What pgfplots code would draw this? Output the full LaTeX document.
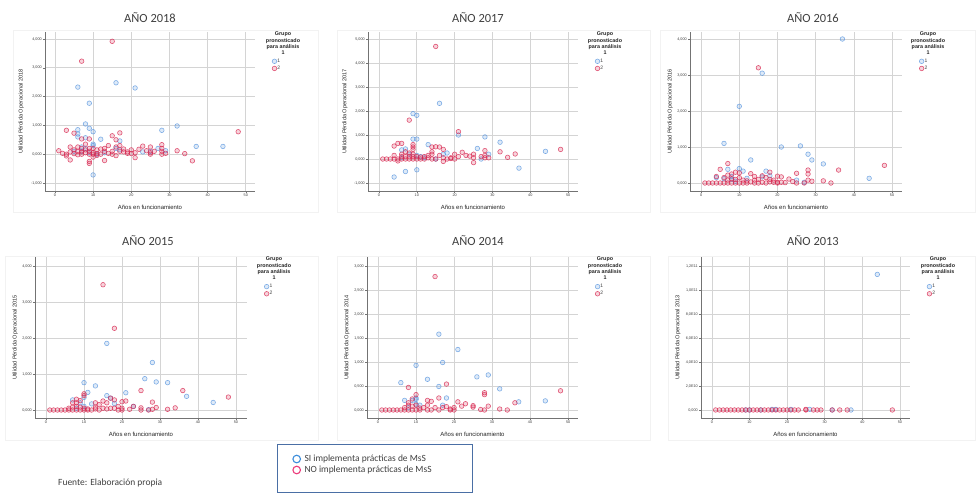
\documentclass[border=0pt]{standalone}
\usepackage{fontspec}
\setmainfont{Liberation Sans}
\newfontfamily\calfont{Carlito}
\usepackage{pgfplots}
\pgfplotsset{compat=1.18}
\definecolor{sblue}{HTML}{5B97E0}
\definecolor{sred}{HTML}{D8264F}
\definecolor{lblue}{HTML}{3C8DDB}
\definecolor{lpink}{HTML}{EC3C7C}
\definecolor{boxblue}{HTML}{4A6FA5}
\definecolor{txt}{HTML}{404040}
\pgfplotsset{
 spss/.style={
   scale only axis, anchor=north west,
   axis lines=left, axis line style={-, draw=black!55, line width=0.6bp},
   enlargelimits=false, clip mode=individual,
   xmajorgrids, ymajorgrids, major grid style={draw=black!17, line width=0.7bp},
   tick align=outside, major tick length=2bp, tick style={draw=black!55, line width=0.4bp},
   /pgf/number format/assume math mode=true,
   ticklabel style={font=\fontsize{3.8}{4}\selectfont, text=black!75, inner sep=1bp},
   xtick={0,10,20,30,40,50},
   xlabel={Años en funcionamiento},
   xlabel style={font=\fontsize{6}{7}\selectfont, text=black!85, at={(axis description cs:0.5,-0.1)}, anchor=center},
   ylabel style={font=\fontsize{5.6}{6}\selectfont, text=black!85, anchor=center},
   legend style={at={(1.08,0.835)}, anchor=north west, draw=none, fill=none, font=\fontsize{5}{5.5}\selectfont, text=black!75, inner sep=0pt, row sep=1.4bp, nodes={inner sep=0.4bp}},
   legend cell align=left,
 },
 g1/.style={only marks, mark=*, mark size=2.3bp, color=sblue, mark options={draw=sblue, fill=sblue, draw opacity=0.8, fill opacity=0.2, line width=0.55bp}},
 g2/.style={only marks, mark=*, mark size=2.3bp, color=sred, mark options={draw=sred, fill=sred, draw opacity=0.8, fill opacity=0.2, line width=0.55bp}},
}
\pgfplotsset{legend image code/.code={\draw[#1] plot coordinates {(0bp,0bp)};\path[draw=none,fill=none] (-2.5bp,-2.5bp) rectangle (2.5bp,2.5bp);}}
\begin{document}
\begin{tikzpicture}
\useasboundingbox (0,0) rectangle (976bp,-499bp);
\fill[white] (0,0) rectangle (976bp,-499bp);
% faint frames
\draw[black!5] (13bp,-30bp) rectangle (318bp,-212bp);
\draw[black!5] (337bp,-30bp) rectangle (650bp,-212bp);
\draw[black!5] (660bp,-30bp) rectangle (975bp,-212bp);
\draw[black!5] (5bp,-256bp) rectangle (318bp,-440bp);
\draw[black!5] (337bp,-256bp) rectangle (650bp,-440bp);
\draw[black!5] (668bp,-256bp) rectangle (975bp,-440bp);
% titles
\foreach \tx/\ty/\tt in {150/18/2018, 478/18/2017, 813/18/2016, 148/241/2015, 478/241/2014, 813/241/2013}
  \node[font=\calfont\fontsize{12.5}{14}\selectfont, text=txt] at (\tx bp,-\ty bp) {AÑO \tt};
% legend titles
\foreach \lx/\ly in {283/32, 605/32, 928/32, 274/257, 605/257, 938/257}
  \node[anchor=north, align=center, font=\bfseries\fontsize{5.4}{6.3}\selectfont, text=black!85, inner sep=0pt] at (\lx bp,-\ly bp) {Grupo\\pronosticado\\para análisis\\1};

% ---------- 2018
\begin{axis}[spss, at={(45bp,-32bp)}, width=210bp, height=159bp,
  xmin=-2.6, xmax=52.4, ymin=-1278, ymax=4243,
  ytick={-1000,0,1000,2000,3000,4000}, yticklabels={{-1,000},{0,000},{1,000},{2,000},{3,000},{4,000}},
  ylabel={Utilidad Pérdida Operacional 2018}, ylabel style={at={(axis description cs:-0.114,0.5)}}]
\addplot[g1] coordinates {(6,2330) (16,2480) (21,2300) (9,1770) (8,1050) (9,900) (6,850) (10,780) (6,700) (6,600) (8,570) (12,520) (17,460) (28,830) (32,980) (37,270) (44,270) (10,-720) (10,350) (10,300) (16,200) (17,150) (23,80) (27,200) (29,120) (25,100) (7,100) (8,200) (9,50) (11,0) (13,50) (7,250) (5,100)};
\addlegendentry{1}
\addplot[g2] coordinates {(15,3920) (7,3230) (3,830) (5,730) (7,530) (9,530) (15,640) (17,740) (16,500) (28,330) (48,780) (36,-230) (34,20) (32,120) (4,-200) (9,-250) (9,-320) (13,-220) (21,-120) (16,-50) (1,120) (2,30) (3,0) (3,-60) (4,250) (4,80) (5,150) (5,20) (6,100) (6,250) (6,-20) (7,0) (7,200) (8,50) (8,150) (8,350) (9,0) (9,100) (9,200) (10,50) (10,0) (10,-100) (10,200) (11,150) (11,20) (12,0) (13,100) (13,200) (14,30) (14,300) (15,100) (16,250) (17,300) (17,100) (18,180) (19,30) (19,80) (20,150) (20,20) (21,50) (22,170) (23,280) (25,250) (25,0) (25,50) (26,100) (28,200) (28,100) (28,0) (29,30) (24,120) (12,180) (7,80) (11,-40) (15,0) (18,80)};
\addlegendentry{2}
\end{axis}

% ---------- 2017
\begin{axis}[spss, at={(368bp,-32bp)}, width=210bp, height=159bp,
  xmin=-2.9, xmax=52.6, ymin=-1333, ymax=5292,
  ytick={-1000,0,1000,2000,3000,4000,5000}, yticklabels={{-1,000},{0,000},{1,000},{2,000},{3,000},{4,000},{5,000}},
  ylabel={Utilidad Pérdida Operacional 2017}, ylabel style={at={(axis description cs:-0.11,0.5)}}]
\addplot[g1] coordinates {(16,2320) (9,1890) (10,1820) (21,1000) (28,920) (32,700) (9,830) (10,830) (13,600) (26,440) (44,320) (37,-380) (4,-750) (7,-520) (10,-450) (6,380) (7,420) (8,200) (17,200) (18,250) (27,0) (29,200) (11,100) (12,50) (15,0) (10,150) (6,50)};
\addlegendentry{1}
\addplot[g2] coordinates {(15,4690) (8,1620) (21,1140) (4,540) (5,650) (6,650) (9,600) (9,500) (9,400) (14,500) (15,510) (16,500) (17,400) (22,280) (25,200) (25,-150) (28,350) (32,300) (34,70) (36,210) (48,400) (1,0) (2,0) (3,0) (4,0) (4,150) (5,0) (5,-80) (6,0) (6,100) (6,200) (7,0) (7,100) (7,300) (8,0) (8,100) (8,250) (9,0) (9,100) (9,200) (10,0) (10,100) (11,0) (12,0) (12,100) (13,50) (13,150) (14,0) (14,200) (14,300) (15,0) (16,150) (17,-100) (17,50) (18,0) (19,50) (20,0) (20,200) (21,100) (23,150) (25,50) (27,100) (28,150) (29,50) (28,50) (19,20) (24,120) (11,80)};
\addlegendentry{2}
\end{axis}

% ---------- 2016
\begin{axis}[spss, at={(690bp,-32bp)}, width=212bp, height=159bp,
  xmin=-2.9, xmax=52.6, ymin=-222, ymax=4194,
  ytick={0,1000,2000,3000,4000}, yticklabels={{0,000},{1,000},{2,000},{3,000},{4,000}},
  ylabel={Utilidad Pérdida Operacional 2016}, ylabel style={at={(axis description cs:-0.094,0.5)}}]
\addplot[g1] coordinates {(37,4000) (16,3050) (10,2130) (6,1100) (21,1000) (26,1030) (28,800) (29,640) (32,530) (13,640) (44,130) (10,400) (11,330) (17,330) (7,380) (8,100) (12,130) (16,170) (18,200) (25,80) (27,20) (9,50) (6,120) (4,150) (8,180)};
\addlegendentry{1}
\addplot[g2] coordinates {(15,3200) (48,490) (36,360) (7,540) (5,380) (18,300) (28,360) (28,250) (25,270) (32,60) (34,0) (28,80) (29,50) (23,110) (21,170) (20,190) (13,260) (14,180) (15,100) (16,200) (17,150) (19,80) (20,20) (21,20) (22,10) (25,0) (1,0) (2,0) (3,0) (4,0) (4,180) (5,0) (6,0) (6,150) (7,0) (7,80) (7,220) (8,0) (8,120) (8,250) (9,0) (9,100) (9,300) (10,0) (10,150) (10,280) (11,0) (11,80) (12,0) (13,30) (14,0) (14,80) (15,0) (16,20) (17,0) (18,30) (18,100) (19,20) (20,0) (27,0) (12,60) (24,40)};
\addlegendentry{2}
\end{axis}

% ---------- 2015
\begin{axis}[spss, at={(35bp,-257bp)}, width=212bp, height=161bp,
  xmin=-2.9, xmax=52.9, ymin=-222, ymax=4250,
  ytick={0,1000,2000,3000,4000}, yticklabels={{0,000},{1,000},{2,000},{3,000},{4,000}},
  ylabel={Utilidad Pérdida Operacional 2015}, ylabel style={at={(axis description cs:-0.094,0.5)}}]
\addplot[g1] coordinates {(16,1850) (28,1320) (26,870) (29,780) (32,760) (10,760) (13,670) (11,490) (21,480) (16,400) (17,330) (37,380) (44,210) (7,280) (12,170) (18,180) (27,10) (10,350) (10,100) (8,50) (23,100) (9,200)};
\addlegendentry{1}
\addplot[g2] coordinates {(15,3480) (18,2270) (25,540) (36,540) (48,360) (10,450) (10,400) (8,300) (9,260) (7,200) (28,220) (21,250) (20,230) (18,280) (15,250) (16,200) (17,330) (14,150) (13,200) (34,60) (32,20) (29,70) (28,20) (25,60) (23,100) (22,20) (20,50) (19,100) (18,50) (1,0) (2,0) (3,0) (4,0) (5,0) (6,0) (6,50) (7,0) (7,80) (8,0) (8,100) (9,0) (9,80) (10,0) (10,50) (11,0) (12,0) (13,30) (13,80) (14,0) (15,50) (16,30) (17,50) (19,0) (20,0) (25,0) (27,0) (11,30) (8,200)};
\addlegendentry{2}
\end{axis}

% ---------- 2014
\begin{axis}[spss, at={(367bp,-257bp)}, width=211bp, height=161bp,
  xmin=-2.9, xmax=52.6, ymin=-167, ymax=3188,
  ytick={0,500,1000,1500,2000,2500,3000}, yticklabels={{0,000},{0,500},{1,000},{1,500},{2,000},{2,500},{3,000}},
  ylabel={Utilidad Pérdida Operacional 2014}, ylabel style={at={(axis description cs:-0.095,0.5)}}]
\addplot[g1] coordinates {(16,1580) (21,1260) (17,990) (10,930) (29,730) (26,690) (13,640) (6,570) (16,490) (32,440) (18,250) (37,170) (44,190) (10,220) (10,250) (9,200) (7,200) (11,100) (17,100) (8,50) (10,120)};
\addlegendentry{1}
\addplot[g2] coordinates {(15,2780) (8,470) (18,540) (28,360) (28,320) (48,400) (10,320) (9,230) (13,200) (14,180) (16,250) (21,170) (23,130) (25,90) (25,60) (29,80) (36,150) (32,20) (34,0) (27,10) (1,0) (2,0) (3,0) (4,0) (5,0) (6,0) (7,0) (7,50) (8,0) (8,100) (9,0) (9,80) (10,0) (10,100) (11,0) (12,50) (13,0) (13,100) (14,0) (15,50) (16,0) (17,50) (18,70) (19,0) (20,50) (20,0) (22,80) (28,0) (8,150) (11,40) (19,20)};
\addlegendentry{2}
\end{axis}

% ---------- 2013
\begin{axis}[spss, at={(701bp,-257bp)}, width=209bp, height=161bp,
  xmin=-2.9, xmax=52.7, ymin=-0.67, ymax=12.75,
  ytick={0,2,4,6,8,10,12}, yticklabels={{0,000},{2,0E10},{4,0E10},{6,0E10},{8,0E10},{1,0E11},{1,2E11}},
  ylabel={Utilidad Pérdida Operacional 2013}, ylabel style={at={(axis description cs:-0.11,0.5)}}]
\addplot[g1] coordinates {(44,11.3) (16,0.05) (17,0.05) (21,0.05) (26,0.05) (32,0) (37,0) (10,0) (13,0) (9,0)};
\addlegendentry{1}
\addplot[g2] coordinates {(1,0) (2,0) (3,0) (4,0) (5,0) (6,0) (7,0) (8,0) (9,0) (10,0) (11,0) (12,0) (13,0) (14,0) (15,0) (16,0) (17,0) (18,0) (19,0) (20,0) (21,0) (22,0) (23,0) (25,0) (25,0.05) (27,0) (28,0) (29,0) (32,0) (34,0) (36,0) (48,0)};
\addlegendentry{2}
\end{axis}

% ---------- bottom legend
\draw[boxblue, line width=0.9bp] (277bp,-444bp) rectangle (472bp,-492bp);
\begin{axis}[hide axis, scale only axis, width=10bp, height=10bp, at={(292bp,-454bp)}, anchor=north west,
  xmin=0, xmax=1, ymin=0, ymax=1,
  legend style={at={(0,1)}, anchor=north west, draw=none, fill=none, font=\calfont\fontsize{9.5}{11}\selectfont, text=txt, inner sep=0pt, row sep=1.3bp, nodes={inner sep=0.8bp}},
  legend cell align=left,
  legend image code/.code={\draw[#1] (0bp,0bp) circle (3.8bp);\path[draw=none,fill=none] (-4.5bp,-4.5bp) rectangle (7bp,4.5bp);}]
\addlegendimage{draw=lblue, line width=1.1bp}
\addlegendentry{SI implementa prácticas de MsS}
\addlegendimage{draw=lpink, line width=1.1bp}
\addlegendentry{NO implementa prácticas de MsS}
\end{axis}

\node[anchor=west, font=\calfont\fontsize{9.5}{11}\selectfont, text=txt, inner sep=0pt] at (58bp,-483bp) {Fuente: Elaboración propia};
\end{tikzpicture}
\end{document}
